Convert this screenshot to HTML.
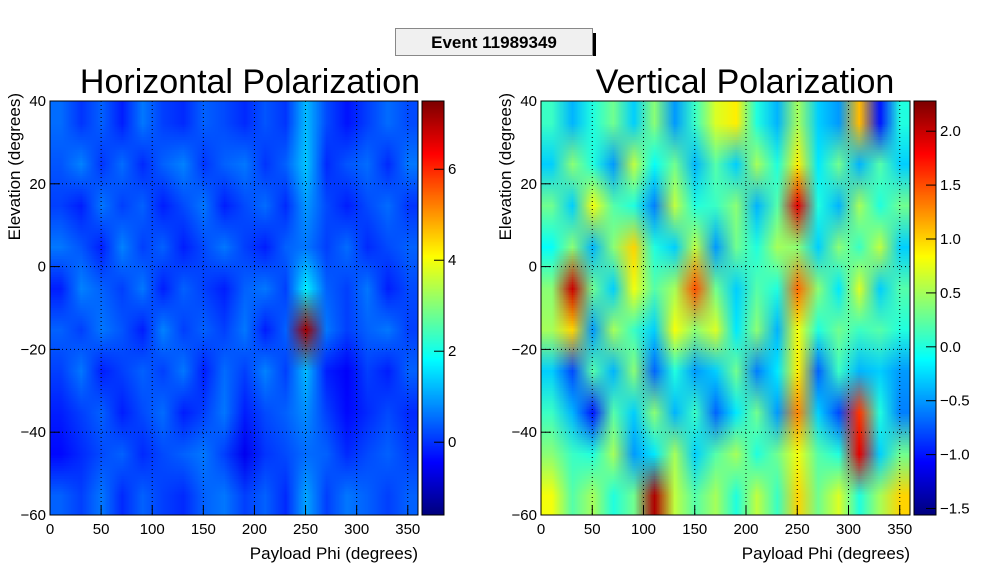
<!DOCTYPE html>
<html><head><meta charset="utf-8"><style>
html,body{margin:0;padding:0;background:#fff;width:988px;height:569px;overflow:hidden;font-family:"Liberation Sans",Arial,sans-serif}
#root{position:relative;width:988px;height:569px}
canvas{position:absolute}
svg{position:absolute;left:0;top:0}
</style></head><body>
<div id="root">
<canvas id="hA" width="18" height="10" style="left:50px;top:101px;width:368px;height:414px"></canvas>
<canvas id="hB" width="18" height="10" style="left:541px;top:101px;width:369px;height:414px"></canvas>
<canvas id="cA" width="1" height="200" style="left:422px;top:101px;width:22px;height:414px"></canvas>
<canvas id="cB" width="1" height="200" style="left:914px;top:101px;width:22px;height:414px"></canvas>
<svg id="svg" width="988" height="569"></svg>
</div>
<script>
// Phi bins: 0..360 in 20° steps; elevation bins from 40 down to -60 in 10° steps
const phiBins = [10,30,50,70,90,110,130,150,170,190,210,230,250,270,290,310,330,350];
const elevBins = [35,25,15,5,-5,-15,-25,-35,-45,-55];
const hValues = [
[0.5,0.0,0.4,-0.2,0.6,0.1,-0.1,0.4,0.2,-0.1,0.3,0.0,1.2,0.2,-0.3,0.1,0.5,0.2],
[0.3,0.7,0.0,0.5,-0.1,0.4,0.7,0.0,0.4,0.6,0.0,0.4,1.3,-0.1,0.3,0.5,-0.1,0.6],
[0.1,-0.2,0.6,0.1,0.4,-0.2,0.2,0.6,-0.2,0.2,0.5,-0.1,0.9,0.2,-0.2,0.2,0.5,0.0],
[0.6,0.3,-0.2,0.7,0.1,0.4,-0.2,0.2,0.6,0.1,-0.2,0.4,0.6,0.1,0.5,-0.1,0.2,0.4],
[-0.2,0.7,0.4,0.1,0.6,-0.2,0.4,0.1,-0.2,0.4,0.6,0.1,1.7,0.4,0.1,0.6,-0.2,0.2],
[0.4,0.1,0.6,0.3,-0.2,0.7,0.1,0.4,0.1,0.6,-0.2,0.4,7.2,0.6,0.1,0.4,0.6,0.1],
[0.1,0.6,-0.2,0.1,0.4,0.1,0.6,-0.2,0.5,0.1,0.7,0.1,1.2,-0.2,-0.5,0.1,-0.2,0.4],
[-0.2,0.1,0.4,-0.2,0.2,0.5,-0.2,0.1,0.6,-0.2,0.2,0.4,0.8,0.1,-0.4,-0.1,0.2,-0.1],
[-0.4,-0.1,0.2,0.4,-0.1,0.2,0.4,0.6,0.1,-0.6,0.0,0.2,0.5,0.4,-0.1,0.2,0.4,0.1],
[0.4,0.1,0.6,-0.1,0.4,0.1,-0.1,0.4,0.6,0.1,0.4,-0.1,1.0,0.1,0.6,0.4,0.1,0.4]];
const vValues = [
[0.1,-0.4,0.0,0.3,-0.3,0.4,-0.5,0.1,0.7,0.9,0.0,-0.4,0.5,-0.3,-0.5,1.1,-1.0,0.0],
[-0.3,0.4,0.0,-0.5,0.6,-0.1,0.3,-0.4,0.2,-0.3,0.5,0.0,0.9,-0.2,0.3,-0.4,0.2,-0.3],
[0.3,-0.3,0.8,0.2,0.0,-0.6,0.6,0.0,0.1,0.4,-0.4,0.2,1.9,0.0,-0.4,0.5,0.0,0.3],
[-0.1,0.4,-0.4,0.4,1.0,0.0,-0.3,0.6,-0.5,0.3,0.0,0.5,0.4,-0.3,0.4,0.1,0.6,-0.3],
[0.4,2.0,0.3,-0.3,0.8,0.2,0.5,1.5,0.3,-0.3,0.2,0.0,1.4,0.4,-0.2,0.7,-0.3,0.2],
[0.5,1.0,-0.5,0.5,0.1,-0.3,0.8,0.4,0.7,-0.2,0.4,-0.4,0.8,0.0,0.3,0.1,0.2,0.0],
[-0.3,-0.8,0.2,-0.4,0.4,-0.7,0.0,-0.5,-0.3,0.3,-0.6,-0.2,0.9,-0.7,0.1,-0.4,-0.3,-0.5],
[0.1,-0.4,-1.0,0.2,-0.3,0.4,-0.4,0.1,-0.7,-0.2,0.3,-0.5,1.3,-0.3,-0.8,1.6,0.0,-0.6],
[0.4,0.1,0.0,0.5,-0.5,-0.2,0.5,-0.3,0.2,0.5,0.0,0.3,0.8,0.2,0.0,1.9,-0.3,0.3],
[0.8,0.2,0.5,0.0,0.3,2.1,0.6,0.2,0.5,0.0,0.6,0.1,1.0,0.3,0.7,0.0,0.5,1.0]];
const xTicks = [0,50,100,150,200,250,300,350];
const yTicks = [-60,-40,-20,0,20,40];
const hBarTicks = [0,2,4,6];
const vBarTicks = [-1.5,-1.0,-0.5,0.0,0.5,1.0,1.5,2.0];
const vBarLabels = ["\u22121.5","\u22121.0","\u22120.5","0.0","0.5","1.0","1.5","2.0"];
const hRange = [-1.6,7.5], vRange = [-1.56,2.28];

function jet(t){t=Math.max(0,Math.min(1,t));
 const f=(x)=>Math.max(0,Math.min(1,1.5-Math.abs(4*t-x)));
 return [f(3)*255,f(2)*255,f(1)*255];}
function drawHeat(id,vals,rng){
 const c=document.getElementById(id),ctx=c.getContext('2d');
 const im=ctx.createImageData(phiBins.length,elevBins.length);
 vals.forEach((row,j)=>row.forEach((v,i)=>{const col=jet((v-rng[0])/(rng[1]-rng[0]));const k=(j*phiBins.length+i)*4;
  im.data[k]=col[0];im.data[k+1]=col[1];im.data[k+2]=col[2];im.data[k+3]=255;}));
 ctx.putImageData(im,0,0);}
function drawBar(id){const c=document.getElementById(id),ctx=c.getContext('2d');
 for(let y=0;y<200;y++){const col=jet(1-y/199);ctx.fillStyle=`rgb(${col[0]|0},${col[1]|0},${col[2]|0})`;ctx.fillRect(0,y,1,1);}}
drawHeat('hA',hValues,hRange);drawHeat('hB',vValues,vRange);drawBar('cA');drawBar('cB');

const svg=document.getElementById('svg');const NS='http://www.w3.org/2000/svg';
function el(t,a,txt){const e=document.createElementNS(NS,t);for(const k in a)e.setAttribute(k,a[k]);if(txt!==undefined)e.textContent=txt;svg.appendChild(e);return e;}
function panel(x0,x1,y0,y1,cbx,bt,bl,rng,pfx,title,tcx){
 const sx=v=>x0+(v/360)*(x1-x0), sy=v=>y1-(v+60)/100*(y1-y0), sc=v=>y1-(v-rng[0])/(rng[1]-rng[0])*(y1-y0);
 xTicks.forEach(v=>{if(v>0){const g=el('line',{x1:sx(v),x2:sx(v),y1:y0,y2:y1,stroke:'#000','stroke-dasharray':'1,3','stroke-width':1});
   }
  const t=el('line',{x1:sx(v),x2:sx(v),y1:y1,y2:y1-10,stroke:'#000'});
  const l=el('text',{x:sx(v),y:y1+19,'text-anchor':'middle','font-size':15},String(v));});
 yTicks.forEach(v=>{if(v>-60&&v<40){const g=el('line',{x1:x0,x2:x1,y1:sy(v),y2:sy(v),stroke:'#000','stroke-dasharray':'1,3'});
   }
  const t=el('line',{x1:x0,x2:x0+10,y1:sy(v),y2:sy(v),stroke:'#000'});
  const l=el('text',{x:x0-4,y:sy(v)+5,'text-anchor':'end','font-size':15},v<0?'\u2212'+(-v):String(v));});
 const f=el('rect',{x:x0,y:y0,width:x1-x0,height:y1-y0,fill:'none',stroke:'#000'});
 const cf=el('rect',{x:cbx,y:y0,width:22,height:y1-y0,fill:'none',stroke:'#000'});
 bt.forEach((v,i)=>{const t=el('line',{x1:cbx+22,x2:cbx+12,y1:sc(v),y2:sc(v),stroke:'#000'});
  const l=el('text',{x:cbx+26,y:sc(v)+5,'font-size':15},bl[i]);});
 const tt=el('text',{x:tcx,y:93,'text-anchor':'middle','font-size':34},title);
 const xl=el('text',{x:x1,y:559,'text-anchor':'end','font-size':17},'Payload Phi (degrees)');
 const yl=el('text',{x:0,y:0,'text-anchor':'end','font-size':17,transform:`translate(${x0-30},${y0-8}) rotate(-90)`},'Elevation (degrees)');
}
panel(50,418,101,515,422,hBarTicks,hBarTicks.map(String),hRange,'horizontal','Horizontal Polarization',250);
panel(541,910,101,515,914,vBarTicks,vBarLabels,vRange,'vertical','Vertical Polarization',745);
const sh=el('rect',{x:592,y:33,width:4,height:23,fill:'#000'});
const bx=el('rect',{x:395.5,y:28.5,width:197,height:27,fill:'#f0f0f0',stroke:'#888'});
const et=el('text',{x:494,y:48,'text-anchor':'middle','font-size':17,'font-weight':'bold'},'Event 11989349');
</script>
</body></html>
